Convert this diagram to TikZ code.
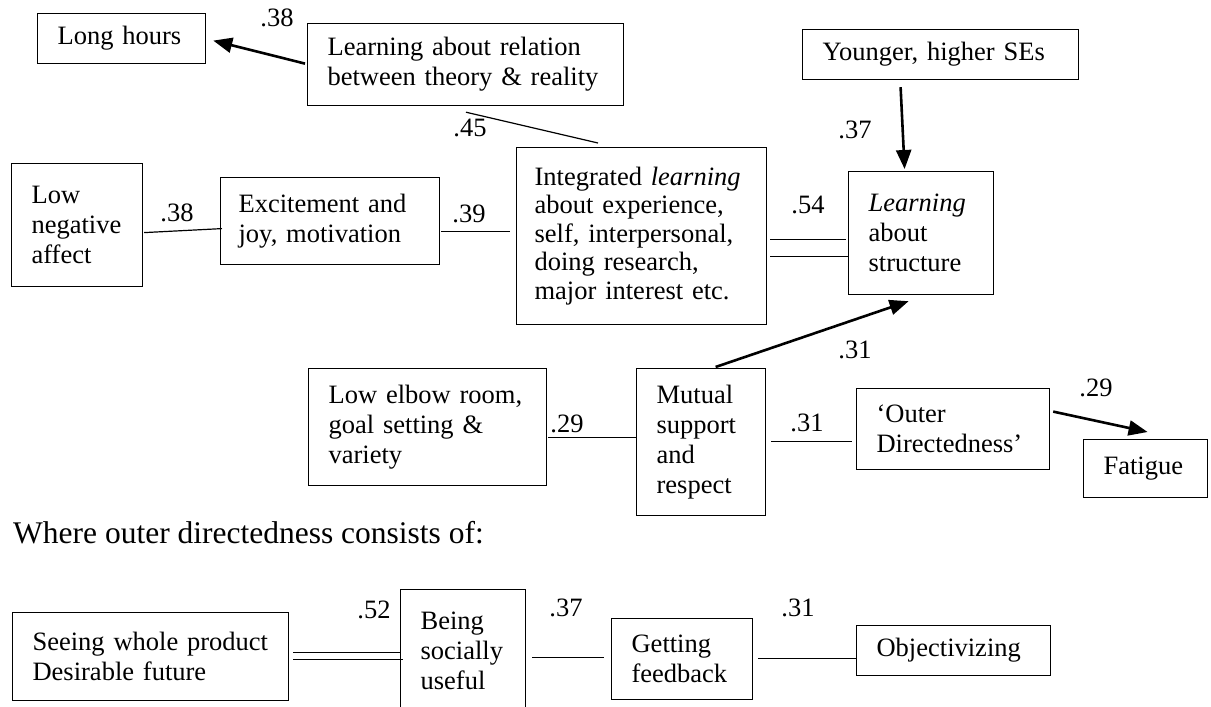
\documentclass[tikz,border=0pt]{standalone}
\usepackage{fontspec}
\setmainfont{Liberation Serif}
\usetikzlibrary{calc,arrows.meta}
\newcommand\bodyfont{\fontsize{26.5}{30}\selectfont}
\newcommand\tightfont{\fontsize{26.5}{28.5}\selectfont}
\newcommand\headfont{\fontsize{31.5}{36}\selectfont}
\begin{document}
\begin{tikzpicture}[x=1pt,y=-1pt,
  box/.style={draw, line width=1.2pt, anchor=north west, align=left,
              inner xsep=20pt, inner ysep=0pt, font=\bodyfont},
  lbl/.style={inner sep=0pt, font=\bodyfont},
  link/.style={line width=1.2pt},
  arr/.style={line width=2.6pt, -{Triangle[length=19pt,width=15pt]}}]
\useasboundingbox (0,0) rectangle (1211,707);
\clip (0,0) rectangle (1211,707);

% upper path model
\node[box, text width=128pt, minimum height=50pt] (hours) at (37,13) {Long hours};
\node[box, text width=276pt, minimum height=82pt] (rel) at (307,23)
  {Learning about relation\\between theory \& reality};
\node[box, text width=236pt, minimum height=50pt] (young) at (802,29) {Younger, higher SEs};
\node[box, text width=91pt, minimum height=123pt] (neg) at (11,163) {Low\\negative\\affect};
\node[box, text width=183pt, minimum height=87pt, inner xsep=18pt] (excite) at (220,177)
  {Excitement and\\joy, motivation};
\node[box, text width=214pt, minimum height=177pt, inner xsep=18pt, font=\tightfont] (integ) at (516,147)
  {Integrated \textit{learning}\\about experience,\\self, interpersonal,\\doing research,\\major interest etc.};
\node[box, text width=105pt, minimum height=123pt] (struct) at (848,171)
  {\textit{Learning}\\about\\structure};
\node[box, text width=198pt, minimum height=117pt] (elbow) at (308,368)
  {Low elbow room,\\goal setting \&\\variety};
\node[box, text width=89pt, minimum height=147pt] (mutual) at (636,368)
  {Mutual\\support\\and\\respect};
\node[box, text width=153pt, minimum height=81pt] (outer) at (856,388)
  {‘Outer\\Directedness’};
\node[box, text width=84pt, minimum height=58pt, inner xsep=20pt] (fatigue) at (1083,439) {Fatigue};

% weights of the upper model
\node[lbl] (w1) at (277,18) {.38};
\node[lbl] (w2) at (470,128) {.45};
\node[lbl] (w3) at (855,130) {.37};
\node[lbl] (w4) at (177,213) {.38};
\node[lbl] (w5) at (469,214) {.39};
\node[lbl] (w6) at (808,205) {.54};
\node[lbl] (w7) at (855,350) {.31};
\node[lbl] (w8) at (567,424) {.29};
\node[lbl] (w9) at (807,423) {.31};
\node[lbl] (w10) at (1096,388) {.29};

% connectors of the upper model
\draw[arr] ($(rel.west)+(-2,-1)$) -- ($(hours.east)+(7,2)$);
\draw[link] ($(rel.south west)+(159,6)$) -- ($(integ.north west)+(82,-4)$);
\draw[link] ($(neg.east)+(1,7.5)$) -- ($(excite.west)+(2,7.5)$);
\draw[link] ($(excite.east)+(1,10.5)$) -- ($(integ.west)+(-6,-4.5)$);
\draw[link] ($(integ.east)+(3,3.5)$) -- ($(struct.west)+(-2,6.5)$);
\draw[link] ($(integ.east)+(3,20.5)$) -- ($(struct.west)+(0,23.5)$);
\draw[arr] ($(young.south)+(-40,7)$) -- ($(struct.north)+(-16.5,-2)$);
\draw[arr] ($(mutual.north)+(14.5,-1)$) -- ($(struct.south)+(-12.5,6)$);
\draw[link] ($(elbow.east)+(1,10.5)$) -- ($(mutual.west)+(1,-4.5)$);
\draw[link] ($(mutual.east)+(5,-0.5)$) -- ($(outer.west)+(-4,12.5)$);
\draw[arr] ($(outer.east)+(3,-17.5)$) -- ($(fatigue.north)+(2,-7)$);

% caption line
\node[inner sep=0pt, anchor=base west, font=\headfont] (where) at (13,543)
  {Where outer directedness consists of:};

% lower chain
\node[box, text width=236pt, minimum height=88pt] (seeing) at (12,612)
  {Seeing whole product\\Desirable future};
\node[box, text width=85pt, minimum height=122pt] (being) at (400,589)
  {Being\\socially\\useful};
\node[box, text width=101pt, minimum height=81pt, inner xsep=20pt] (getting) at (611,618)
  {Getting\\feedback};
\node[box, text width=154pt, minimum height=50pt] (obj) at (856,625) {Objectivizing};

\node[lbl] (w11) at (374,610) {.52};
\node[lbl] (w12) at (566,608) {.37};
\node[lbl] (w13) at (798,608) {.31};

\draw[link] ($(seeing.east)+(4,-4)$) -- ($(being.west)+(0,2)$);
\draw[link] ($(seeing.east)+(4,3)$) -- ($(being.west)+(3,9)$);
\draw[link] ($(being.east)+(6,7)$) -- ($(getting.west)+(-7,-1.5)$);
\draw[link] ($(getting.east)+(5,-0.5)$) -- ($(obj.west)+(0,8)$);
\end{tikzpicture}
\end{document}
